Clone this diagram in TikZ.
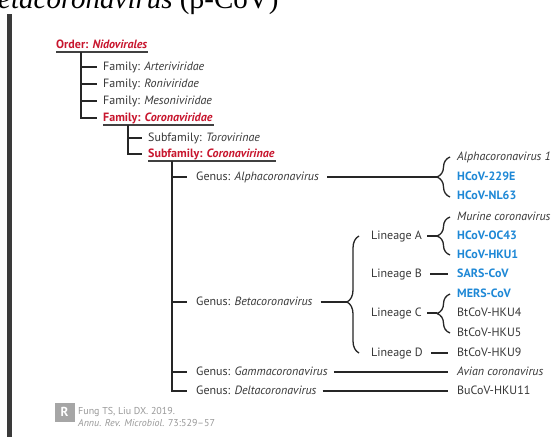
\documentclass[tikz,border=0pt]{standalone}
\usepackage{fontspec}
\setmainfont{PT Sans}
\newfontfamily\headfont{Liberation Serif}
\usetikzlibrary{positioning,decorations.pathreplacing,calc}

\definecolor{txtgray}{RGB}{55,55,55}
\definecolor{keyred}{RGB}{200,22,46}
\definecolor{virblue}{RGB}{30,136,214}
\definecolor{bargray}{RGB}{58,58,58}

\begin{document}
\begin{tikzpicture}[
    x=1pt, y=-1pt,
    lbl/.style={anchor=west, inner sep=0pt, text=txtgray, font=\fontsize{12}{14}\selectfont, text height=8.5pt, text depth=2.5pt},
    key/.style={lbl, text=keyred, font=\fontsize{12}{14}\selectfont\bfseries},
    virus/.style={lbl, text=virblue, font=\fontsize{12}{14}\selectfont\bfseries},
    cite/.style={lbl, text=black!40, font=\fontsize{10}{11}\selectfont, text height=7pt, text depth=2pt},
    tree/.style={line width=1.5pt, black!85},
    uline/.style={line width=1.1pt, black!75},
    brc/.style={line width=1.3pt, black!85, decorate, decoration={brace, amplitude=13pt}},
]
    \clip (0,0) rectangle (553,437);
    \fill[white] (0,0) rectangle (553,437);

    % heading cut at the top edge, and the side bar
    \node[anchor=base west, inner sep=0pt, font=\headfont\fontsize{29}{31}\selectfont] (head) at (-2,8) {\textit{etacoronavirus} (β-CoV)};
    \fill[bargray] (7,14) rectangle (12,437);

    % order and families
    \node[key] (order) at (56,45) {Order: \textit{Nidovirales}};
    \node[lbl] (arteri) at (103,67) {Family: \textit{Arteriviridae}};
    \node[lbl] (roni) at (103,84) {Family: \textit{Roniviridae}};
    \node[lbl] (meso) at (103,101) {Family: \textit{Mesoniviridae}};
    \node[key] (corfam) at (103,118) {Family: \textit{Coronaviridae}};

    % subfamilies
    \node[lbl] (toro) at (148,138) {Subfamily: \textit{Torovirinae}};
    \node[key] (corsub) at (148,154) {Subfamily: \textit{Coronavirinae}};

    % genera
    \node[lbl] (alpha) at (196,177) {Genus: \textit{Alphacoronavirus}};
    \node[lbl] (beta) at (196,302) {Genus: \textit{Betacoronavirus}};
    \node[lbl] (gamma) at (196,372) {Genus: \textit{Gammacoronavirus}};
    \node[lbl] (delta) at (196,391) {Genus: \textit{Deltacoronavirus}};

    % lineages
    \node[lbl] (lina) at (371,236) {Lineage A};
    \node[lbl] (linb) at (371,274) {Lineage B};
    \node[lbl] (linc) at (371,313) {Lineage C};
    \node[lbl] (lind) at (371,353) {Lineage D};

    % viruses
    \node[lbl] (alphaone) at (457,157) {\textit{Alphacoronavirus 1}};
    \node[virus] (hcovtwo) at (457,177) {HCoV-229E};
    \node[virus] (hcovnl) at (457,196) {HCoV-NL63};
    \node[lbl] (murine) at (457,217) {\textit{Murine coronavirus}};
    \node[virus] (hcovoc) at (457,236) {HCoV-OC43};
    \node[virus] (hcovhku) at (457,255) {HCoV-HKU1};
    \node[virus] (sars) at (457,274) {SARS-CoV};
    \node[virus] (mers) at (457,294) {MERS-CoV};
    \node[lbl] (btfour) at (457,313) {BtCoV-HKU4};
    \node[lbl] (btfive) at (457,333) {BtCoV-HKU5};
    \node[lbl] (btnine) at (457,353) {BtCoV-HKU9};
    \node[lbl] (avian) at (457,372) {\textit{Avian coronavirus}};
    \node[lbl] (bucov) at (457,391) {BuCoV-HKU11};

    % underlines
    \foreach \k in {order,corfam,corsub}
        \draw[uline] ([yshift=-7pt]\k.west) -- ([xshift=1pt,yshift=-7pt]\k.east);

    % tree lines
    \foreach \c in {arteri,roni,meso,corfam}
        \draw[tree] ([xshift=25pt,yshift=-7pt]order.west) |- ([xshift=-6pt]\c.west);
    \foreach \c in {toro,corsub}
        \draw[tree] ([xshift=25pt,yshift=-7pt]corfam.west) |- ([xshift=-6pt]\c.west);
    \foreach \c in {alpha,beta,gamma,delta}
        \draw[tree] ([xshift=24pt,yshift=-7pt]corsub.west) |- ([xshift=-9pt]\c.west);

    % braces
    \coordinate (alphatip) at (437,177);
    \coordinate (betatip) at (347,302);
    \coordinate (linatip) at (437,236);
    \coordinate (linctip) at (437,313);
    \draw[brc] (450,197) -- (450,157);
    \draw[brc] (450,255) -- (450,217);
    \draw[brc] (450,333) -- (450,294);
    \draw[brc, decoration={amplitude=12pt, aspect=0.436}] (359,353) -- (359,236);

    % connectors
    \draw[tree] ([xshift=8pt]alpha.east) -- (alphatip);
    \draw[tree] ([xshift=8pt]beta.east) -- (betatip);
    \draw[tree] ([xshift=5pt]lina.east) -- (linatip);
    \draw[tree] ([xshift=5pt]linc.east) -- (linctip);
    \draw[tree] ([xshift=8pt]linb.east) -- ([xshift=-9pt]sars.west);
    \draw[tree] ([xshift=8pt]lind.east) -- ([xshift=-9pt]btnine.west);
    \draw[tree] ([xshift=6pt]gamma.east) -- ([xshift=-9pt]avian.west);
    \draw[tree] ([xshift=6pt]delta.east) -- ([xshift=-9pt]bucov.west);

    % source
    \node[fill=black!35, text=white, inner sep=0pt, minimum width=20pt, minimum height=19pt, font=\fontsize{13}{13}\selectfont\bfseries] (logo) at (64.5,412) {R};
    \node[cite] (citeone) at (78,412) {Fung TS, Liu DX. 2019.};
    \node[cite] (citetwo) at (78,424) {\textit{Annu. Rev. Microbiol.} 73:529–57};
\end{tikzpicture}
\end{document}
